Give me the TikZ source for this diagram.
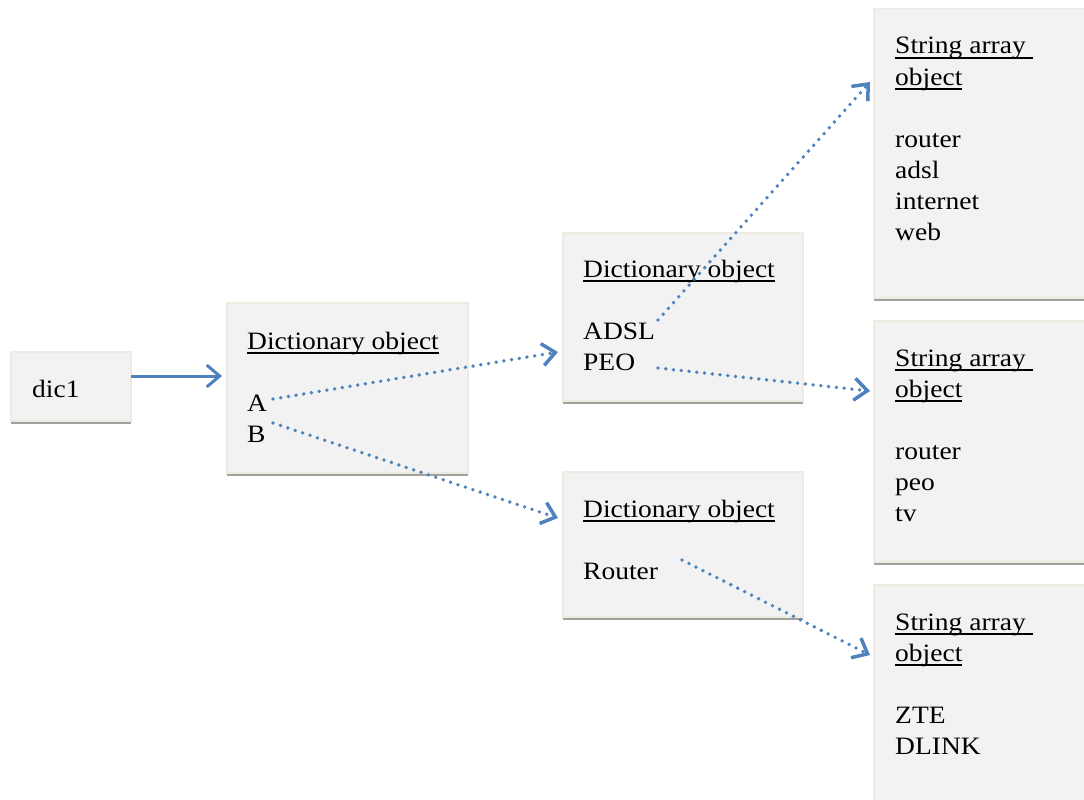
\documentclass[tikz,border=0pt]{standalone}
\usepackage{fontspec}
\setmainfont{Liberation Serif}[FakeStretch=1.1]
\usetikzlibrary{arrows.meta,shadows}

\definecolor{boxfill}{HTML}{F2F2F2}
\definecolor{boxline}{HTML}{EEECE1}
\definecolor{boxshade}{HTML}{A0A0A0}
\definecolor{linkblue}{HTML}{4F81BD}

% underlined heading, rule close under the baseline
\newcommand{\ulhead}[1]{\setbox0\hbox{#1}\rlap{\rule[-5.2pt]{\wd0}{2.2pt}}\box0}

\tikzset{
  objbox/.style={draw=boxline, line width=1.5pt, fill=boxfill, anchor=north west, inner sep=0pt,
    drop shadow={shadow xshift=0pt, shadow yshift=-3pt, fill=boxshade, opacity=1}},
  entry/.style={anchor=base west, inner sep=0pt, font=\fontsize{25}{31}\selectfont},
  feed/.style={linkblue, line width=3pt, -{Straight Barb[length=13pt,width=22pt]}},
  link/.style={linkblue, line width=3.8pt, line cap=round, dash pattern=on 0pt off 7.8pt,
    -{Straight Barb[length=13pt,width=22pt,line width=3.5pt]}}
}

\begin{document}
\begin{tikzpicture}[x=1pt,y=-1pt]
	\useasboundingbox (0,0) rectangle (1084,800);

	% boxes
	\node[objbox, minimum width=120pt, minimum height=69pt] (dic1) at (10,351) {};
	\node[objbox, minimum width=241pt, minimum height=170pt] (dictA) at (226,302) {};
	\node[objbox, minimum width=240pt, minimum height=168pt] (dictB) at (562,232) {};
	\node[objbox, minimum width=240pt, minimum height=145pt] (dictC) at (562,471) {};
	\node[objbox, minimum width=214pt, minimum height=289pt] (strA) at (873,8) {};
	\node[objbox, minimum width=214pt, minimum height=241pt] (strB) at (873,320) {};
	\node[objbox, minimum width=214pt, minimum height=230pt] (strC) at (873,584) {};

	% texts
	\node[entry] (dic1-t) at (32,397) {dic1};

	\node[entry] (dictA-h) at (247,349) {\ulhead{Dictionary object}};
	\node[entry] (dictA-a) at (247,411) {A};
	\node[entry] (dictA-b) at (247,442) {B};

	\node[entry] (dictB-h) at (583,277) {\ulhead{Dictionary object}};
	\node[entry] (dictB-adsl) at (583,339) {ADSL};
	\node[entry] (dictB-peo) at (583,370) {PEO};

	\node[entry] (dictC-h) at (583,517) {\ulhead{Dictionary object}};
	\node[entry] (dictC-router) at (583,579) {Router};

	\foreach \obj/\ytop in {strA/54, strB/366, strC/630}{
		\node[entry] (\obj-h1) at (895,\ytop) {\ulhead{String array\ }};
		\node[entry] (\obj-h2) at (895,\ytop+31) {\ulhead{object}};
	}
	\foreach \word [count=\i from 0] in {router, adsl, internet, web}
		\node[entry] (strA-\i) at (895,147+31*\i) {\word};
	\foreach \word [count=\i from 0] in {router, peo, tv}
		\node[entry] (strB-\i) at (895,459+31*\i) {\word};
	\foreach \word [count=\i from 0] in {ZTE, DLINK}
		\node[entry] (strC-\i) at (895,723+31*\i) {\word};

	% connectors
	\draw[feed] ([shift={(121,25)}]dic1.north west) -- ([shift={(-4,74)}]dictA.north west);
	\draw[link] ([shift={(26,-12)}]dictA-a.base west) -- ([shift={(-4,120)}]dictB.north west);
	\draw[link] ([shift={(26,-19)}]dictA-b.base west) -- ([shift={(-4,47)}]dictC.north west);
	\draw[link] ([shift={(75,-19)}]dictB-adsl.base west) -- ([shift={(-3,74)}]strA.north west);
	\draw[link] ([shift={(75,-2)}]dictB-peo.base west) -- ([shift={(-3,71)}]strB.north west);
	\draw[link] ([shift={(99,-19)}]dictC-router.base west) -- ([shift={(-3,71)}]strC.north west);
\end{tikzpicture}
\end{document}
